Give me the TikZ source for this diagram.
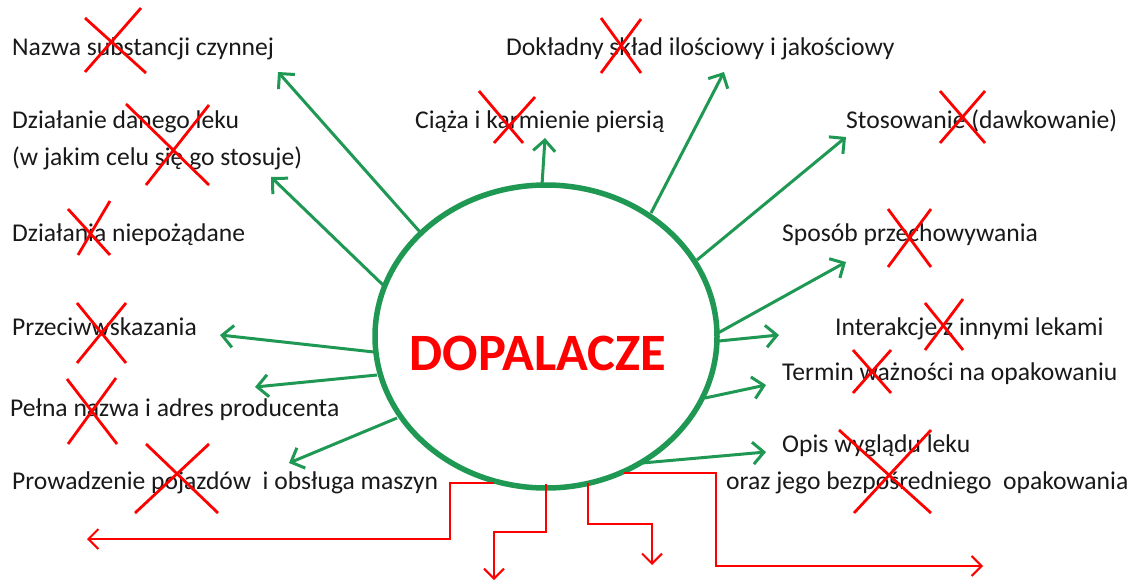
\documentclass[tikz,border=0pt]{standalone}
\usepackage{fontspec}
\setmainfont{Carlito}
\usetikzlibrary{arrows.meta,shapes.geometric}
\definecolor{gr}{RGB}{30,152,82}
\definecolor{txt}{RGB}{25,25,25}
\definecolor{xred}{RGB}{255,0,0}
\begin{document}
\begin{tikzpicture}[x=1pt,y=-1pt,
 lbl/.style={anchor=base west, inner sep=0pt, font=\fontsize{25.6}{30}\selectfont, text=txt},
 garrow/.style={draw=gr, line width=3pt, -{Straight Barb[length=11pt,width=22pt]}},
 rarrow/.style={draw=xred, line width=2pt, -{Straight Barb[length=10pt,width=20pt]}},
 cross/.style={draw=xred, line width=2.8pt}]
\useasboundingbox (0,0) rectangle (1132,581);
% centre
\node[draw=gr, line width=5.5pt, ellipse, minimum width=342pt, minimum height=303pt, inner sep=0pt] (c) at (546,336.5) {};
\node[anchor=base, inner sep=0pt, font=\bfseries\fontsize{52.5}{60}\selectfont, text=xred] (title) at (538,370) {DOPALACZE};
% labels
\node[lbl] (l1) at (12,55) {Nazwa substancji czynnej};
\node[lbl] (l2) at (12,128) {Działanie danego leku};
\node[lbl] (l3) at (12,165) {(w jakim celu się go stosuje)};
\node[lbl] (l4) at (12,241) {Działania niepożądane};
\node[lbl] (l5) at (12,335) {Przeciwwskazania};
\node[lbl] (l6) at (10,416) {Pełna nazwa i adres producenta};
\node[lbl] (l7) at (12,489) {Prowadzenie pojazdów\ \ i obsługa maszyn};
\node[lbl] (r1) at (506,55) {Dokładny skład ilościowy i jakościowy};
\node[lbl] (r2) at (415,128) {Ciąża i karmienie piersią};
\node[lbl] (r3) at (846,128) {Stosowanie (dawkowanie)};
\node[lbl] (r4) at (782,241) {Sposób przechowywania};
\node[lbl] (r5) at (835,335) {Interakcje z innymi lekami};
\node[lbl] (r6) at (782,380) {Termin ważności na opakowaniu};
\node[lbl] (r7) at (782,452) {Opis wyglądu leku};
\node[lbl] (r8) at (726,489) {oraz jego bezpośredniego\ \ opakowania};
% green arrow ends
\coordinate (s1) at (420,232); \coordinate (t1) at (278,72);
\coordinate (s2) at (383,285); \coordinate (t2) at (271,177);
\coordinate (s3) at (542,185); \coordinate (t3) at (545,138);
\coordinate (s4) at (651,213); \coordinate (t4) at (724,72);
\coordinate (s5) at (697,260); \coordinate (t5) at (846,137);
\coordinate (s6) at (718,333); \coordinate (t6) at (846,262);
\coordinate (s7) at (719,341); \coordinate (t7) at (779,335);
\coordinate (s8) at (705,398); \coordinate (t8) at (766,385);
\coordinate (s9) at (642,463); \coordinate (t9) at (766,452);
\coordinate (s10) at (374,352); \coordinate (t10) at (220,335);
\coordinate (s11) at (377,375); \coordinate (t11) at (255,387);
\coordinate (s12) at (397,418); \coordinate (t12) at (289,463);
\foreach \i in {1,...,12} {\draw[garrow] (s\i) -- (t\i);}
% red connectors
\coordinate (a1) at (494,483); \coordinate (b1) at (87,539);
\coordinate (a2) at (546,484); \coordinate (b2) at (494,580);
\coordinate (a3) at (588,483); \coordinate (b3) at (652,565);
\coordinate (a4) at (624,473); \coordinate (b4) at (983,566);
\draw[rarrow] (a1) -- (450,483) -- (450,539) -- (b1);
\draw[rarrow] (a2) -- (546,532) -- (494,532) -- (b2);
\draw[rarrow] (a3) -- (588,524) -- (652,524) -- (b3);
\draw[rarrow] (a4) -- (716,473) -- (716,566) -- (b4);
% crosses
\draw[cross] (85,18) -- (146,73) (141,8) -- (85,72);
\draw[cross] (126,104) -- (209,185) (209,105) -- (146,185);
\draw[cross] (68,209) -- (110,255) (110,201) -- (78,255);
\draw[cross] (479,91) -- (523,143) (535,97) -- (494,143);
\draw[cross] (601,18) -- (641,73) (641,19) -- (601,73);
\draw[cross] (940,91) -- (985,143) (985,91) -- (940,143);
\draw[cross] (888,209) -- (931,267) (931,209) -- (888,267);
\draw[cross] (77,303) -- (126,363) (126,303) -- (77,363);
\draw[cross] (67,379) -- (117,444) (116,378) -- (68,444);
\draw[cross] (146,444) -- (218,513) (209,444) -- (135,513);
\draw[cross] (925,303) -- (963,350) (963,299) -- (925,350);
\draw[cross] (853,350) -- (891,393) (891,350) -- (853,393);
\draw[cross] (839,430) -- (931,513) (931,430) -- (854,513);
\end{tikzpicture}
\end{document}
